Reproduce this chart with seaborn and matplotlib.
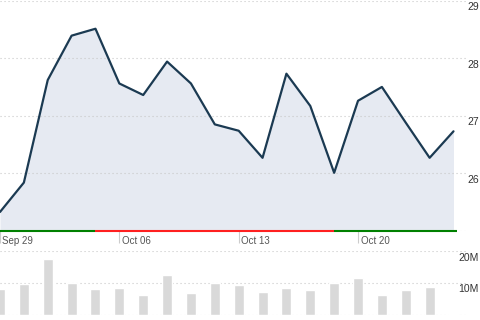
import matplotlib
matplotlib.use("Agg")
import matplotlib.pyplot as plt
import matplotlib.transforms as mtransforms
import pandas as pd
import seaborn as sns

# ---- data ----
dates = ["Sep 29", "Sep 30", "Oct 01", "Oct 02", "Oct 03",
         "Oct 06", "Oct 07", "Oct 08", "Oct 09", "Oct 10",
         "Oct 13", "Oct 14", "Oct 15", "Oct 16", "Oct 17",
         "Oct 20", "Oct 21", "Oct 22", "Oct 23", "Oct 24"]
price = [25.33, 25.84, 27.62, 28.39, 28.51,
         27.56, 27.36, 27.94, 27.56, 26.85,
         26.74, 26.27, 27.73, 27.17, 26.01,
         27.26, 27.50, 26.88, 26.27, 26.73]
volume_m = [8.1, 9.7, 17.5, 10.0, 8.1,
            8.4, 6.3, 12.5, 6.9, 10.0,
            9.4, 7.2, 8.4, 7.8, 10.0,
            11.6, 6.3, 7.8, 8.8, 0.3]
tick_dates = ["Sep 29", "Oct 06", "Oct 13", "Oct 20"]
price_ticks = [25, 26, 27, 28, 29]
price_tick_labels = ["", "26", "27", "28", "29"]
vol_ticks = [0, 10, 20]
vol_tick_labels = ["", "10M", "20M"]
trend_start = [0, 4, 14]
trend_end = [4, 14, 19.13]
trend_color = ["#008000", "#ff2020", "#008000"]

df = pd.DataFrame({"idx": range(len(dates)), "date": dates,
                   "price": price, "volume": volume_m})
tick_idx = [dates.index(d) for d in tick_dates]

sns.set_style("white")
plt.rcParams["font.family"] = ["Liberation Sans", "DejaVu Sans"]

W, H = 480, 320
fig = plt.figure(figsize=(W / 100, H / 100), dpi=100)
x_right = 466
ax_p = fig.add_axes([0, (H - 231) / H, x_right / W, 230.5 / H])
ax_v = fig.add_axes([0, (H - 314.7) / H, x_right / W, (314.7 - 251.3) / H])
xmax = 19 * x_right / 453.5

# ---- price panel ----
ax_p.fill_between(df["idx"], df["price"], price_ticks[0], color="#e6eaf2",
                  zorder=0.2, linewidth=0)
sns.lineplot(data=df, x="idx", y="price", ax=ax_p, color="#1b3a52",
             linewidth=1.6, zorder=2)
for s, e, c in zip(trend_start, trend_end, trend_color):
    ax_p.plot([s, e], [price_ticks[0], price_ticks[0]], color=c, lw=1.5,
              solid_capstyle="butt", clip_on=False, zorder=3)
ax_p.set_xlim(0, xmax)
ax_p.set_ylim(price_ticks[0], price_ticks[-1])
ax_p.set_xlabel("")
ax_p.set_ylabel("")
ax_p.set_axisbelow(True)
ax_p.grid(axis="y", color="#c8c8c8", linestyle=(0, (1, 2.6)), linewidth=0.8)
ax_p.grid(axis="x", visible=False)
ax_p.yaxis.tick_right()
ax_p.set_yticks(price_ticks, price_tick_labels)
ax_p.tick_params(axis="y", right=True, left=False, length=0, pad=9.4,
                 labelsize=7.5, labelcolor="#333333")
ax_p.set_xticks(tick_idx, tick_dates)
ax_p.tick_params(axis="x", bottom=True, length=8.64, width=0.8,
                 color="#cccccc", direction="out", pad=-1.66,
                 labelsize=7, labelcolor="#555555")
for sp in ax_p.spines.values():
    sp.set_visible(False)

off_y = mtransforms.ScaledTranslation(0, -6.5 / 100, fig.dpi_scale_trans)
for lbl in ax_p.get_yticklabels():
    lbl.set_horizontalalignment("right")
    lbl.set_verticalalignment("center")
    lbl.set_transform(lbl.get_transform() + off_y)
off_x = mtransforms.ScaledTranslation(2.5 / 100, 0, fig.dpi_scale_trans)
for lbl in ax_p.get_xticklabels():
    lbl.set_horizontalalignment("left")
    lbl.set_verticalalignment("center")
    lbl.set_transform(lbl.get_transform() + off_x)

# ---- volume panel ----
sns.barplot(data=df, x="idx", y="volume", ax=ax_v, color="#d9d9d9",
            width=0.42, saturation=1, zorder=2)
ax_v.set_xlim(0, xmax)
ax_v.set_ylim(vol_ticks[0], vol_ticks[-1])
ax_v.set_xlabel("")
ax_v.set_ylabel("")
ax_v.set_axisbelow(True)
ax_v.grid(axis="y", color="#c8c8c8", linestyle=(0, (1, 2.6)), linewidth=0.8)
ax_v.grid(axis="x", visible=False)
ax_v.set_xticks([])
ax_v.yaxis.tick_right()
ax_v.set_yticks(vol_ticks, vol_tick_labels)
ax_v.tick_params(axis="y", right=True, left=False, length=0, pad=9.4,
                 labelsize=7.5, labelcolor="#333333")
for sp in ax_v.spines.values():
    sp.set_visible(False)
for lbl in ax_v.get_yticklabels():
    lbl.set_horizontalalignment("right")
    lbl.set_verticalalignment("center")
    lbl.set_transform(lbl.get_transform() + off_y)

fig.savefig("out.png", dpi=100)
